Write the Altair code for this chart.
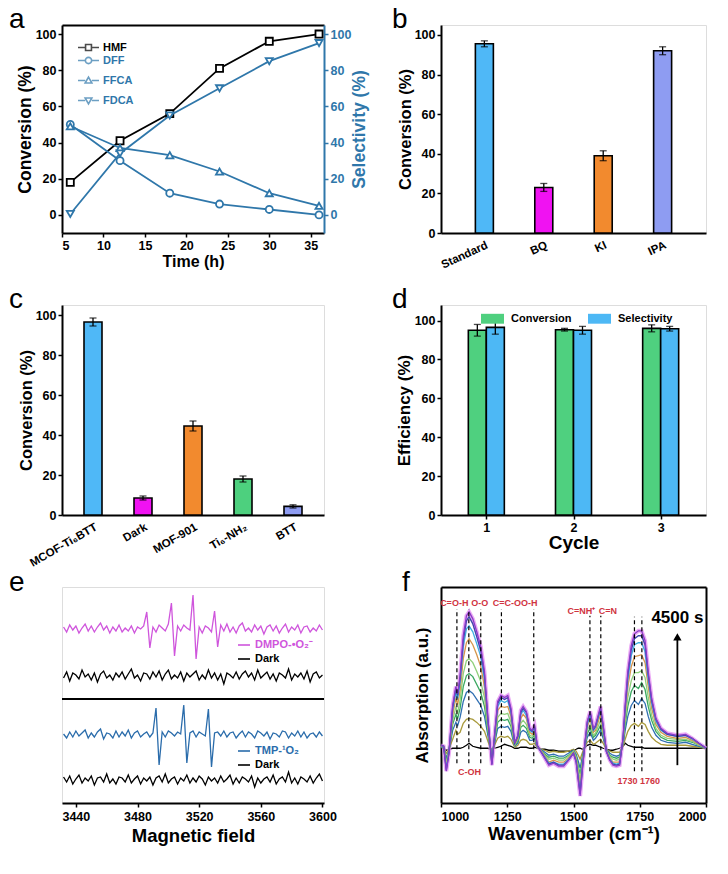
import altair as alt
import pandas as pd

FONT = "Liberation Sans"
BLUE_A = "#2f77aa"
RED = "#d0343f"
MAG = "#cf55dc"
TMPB = "#2a6cab"

# ---------------- panel a ----------------
time_h = [6, 12, 18, 24, 30, 36]
hmf = [18, 41, 56, 81, 96, 100]
dff = [50, 30, 12, 6, 3, 0]
ffca = [49, 37, 33, 24, 12, 5]
fdca = [0.5, 34, 55, 70, 85, 95]
a_x_range = [5, 36.6]
a_y_range = [-10, 105]

# ---------------- panel b ----------------
b_cats = ["Standard", "BQ", "KI", "IPA"]
b_vals = [95.5, 23, 39, 92]
b_errs = [1.5, 2, 2.5, 2]
b_colors = ["#4fb8f7", "#f012f2", "#f28a2e", "#8e9cf2"]

# ---------------- panel c ----------------
c_cats = ["MCOF-Ti₆BTT", "Dark", "MOF-901", "Ti₆-NH₂", "BTT"]
c_vals = [96.5, 8.5, 44.5, 18, 4.3]
c_errs = [2, 1, 2.5, 1.5, 0.8]
c_colors = ["#4fb8f7", "#f012f2", "#f28a2e", "#4dd07e", "#8e9cf2"]

# ---------------- panel d ----------------
cycles = ["1", "2", "3"]
d_conv = [95, 95.3, 96]
d_conv_err = [3, 0.7, 1.8]
d_sel = [96.5, 95, 95.8]
d_sel_err = [3.5, 2, 1.2]
d_metrics = ["Conversion", "Selectivity"]
d_colors = ["#4fd07f", "#4db8f5"]

# ---------------- panel e (EPR) ----------------
epr_field = list(range(3432, 3601, 2))
epr_dmpo = [2, -3, 4, -1, 3, -4, 1, 5, -2, 3,
            -3, 2, 6, -1, 3, -4, 2, -2, 4, -3,
            1, -2, 3, -4, 2, 0, 3,
            17, -19,
            2, -3, 4, 1, -2, 5,
            26, -27,
            3, -2, 4, 1, -1,
            34, -30,
            2, -4, 3, 1, -3,
            18, -18,
            4, -2, 5, -3, 2, -4, 3, 6, -2, 1,
            -3, 4, -1, 3, -5, 2, 4, -2, 3, -4,
            1, 5, -3, 2, -1, 4, -4, 2, 3, -3, 1, -2, 4, -1]
epr_dark1 = [-2, 4, -5, 3, 1, -3, 6, -1, 2, -4,
             3, -6, 2, 5, -2, 1, -4, 3, -1, 4,
             -3, 2, 7, -2, 1, -5, 3, 2, -3, 4,
             -1, 5, -4, 2, 6, -3, 1, -2, 4, -5,
             3, -1, 2, 5, -4, 1, -3, 6, -2, 3,
             -4, 2, -8, 3, 1, -2, 4, -3, 2, 5,
             -1, 3, -4, 6, -2, 1, 4, -3, 2, -5,
             3, 1, -2, 7, -4, 2, -1, 3, -3, 5,
             -6, 2, 4, -2, 1]
epr_tmp = [1, -3, 3, -2, 4, -1, 2, 5, -3, 2,
           -2, 3, 6, -4, 2, 1, -3, 4, -2, 3,
           -1, 5, -3, 2, 4, -2, 1, 3, -2, 2,
           27, -30,
           3, -2, 4, 2, -1, 3, 1,
           30, -28,
           2, 4, -2, 3, 1, -1,
           26, -32,
           2, 3, -1, 4, -2, 2, 3, -3, 1, 4,
           -2, 3, 1, -3, 4, 2, -1, 3, -4, 2,
           1, -2, 4, 3, -3, 2, -1, 4, -2, 3,
           -3, 1, 2, -2, 3, -1]
epr_dark2 = [3, -2, 4, -4, 1, 5, -3, 2, -1, 4,
             -5, 2, 3, -2, 6, -3, 1, -4, 3, 2,
             -2, 5, -3, 1, 4, -4, 2, -1, 3, -5,
             2, 4, -2, 6, -3, 1, 3, -4, 2, -1,
             5, -3, 2, -2, 4, 1, -5, 3, -1, 2,
             -3, 4, -2, 1, 5, -4, 2, -3, 3, 1,
             -2, 4, -7, 2, -3, 1, 3, -2, 5, -4,
             1, 3, -2, 8, -3, 2, -4, 3, 1, -2,
             4, -3, 2, 6, -1]
epr_divider = [81]

# ---------------- panel f (in-situ IR) ----------------
f_x_range = [1000, 2000]
f_y_range = [-55, 162]
ir_wn = [1000, 1010, 1020, 1030, 1044, 1056, 1063, 1072, 1084, 1096,
         1106, 1120, 1135, 1150, 1164, 1177, 1192, 1202, 1214, 1226,
         1240, 1252, 1264, 1278, 1290, 1301, 1310, 1322, 1335, 1344,
         1353, 1363, 1376, 1392, 1407, 1425, 1444, 1463, 1481, 1500,
         1510, 1518, 1525, 1534, 1544, 1552, 1563, 1575, 1583, 1602,
         1612, 1624, 1637, 1649, 1662, 1674, 1687, 1695, 1705, 1718,
         1730, 1745, 1757, 1770, 1782, 1795, 1811, 1830, 1854, 1892,
         1923, 1948, 1973, 2000]
ir_dark = [0, 0, -2, -1, 0, 0, 0, 0, 1, 3, 5, 2, 1, 0, 0, 0, -1, 0, 1, 2,
           4, 3, 2, 0, 0, 1, 1, 1, 0, 0, 1, 0, -1, -1, -2, -2, -3, -3, -3, -2,
           -1, 0, 0, -1, 1, 3, 4, 3, 3, 1, 0, -1, -2, -2, -1, 0, 2, 5, 3, 2,
           1, 1, 1, 0, 0, 0, 0, 0, 0, 0, 0, 0, 0, 0]
ir_t1 = [1, 0, -5, -1, 9, 18, 14, 16, 25, 29, 30, 29, 26, 22, 17, 7, -4, 3, 10, 12,
         11, 12, 9, 1, 3, 8, 9, 8, 4, 4, 5, 1, -1, -2, -4, -3, -4, -4, -3, -1,
         -3, -7, -11, -4, 2, 6, 8, 4, 5, 9, 5, -1, -3, -4, -4, -4, 2, 9, 17, 23,
         25, 22, 26, 24, 17, 11, 7, 4, 3, 3, 3, 2, 1, 0]
ir_t2 = [1, 1, -10, -2, 18, 26, 23, 31, 47, 56, 58, 55, 49, 43, 32, 13, -7, 5, 20, 22,
         21, 22, 17, 2, 5, 16, 18, 16, 8, 8, 10, 1, -1, -4, -7, -6, -8, -8, -5, -2,
         -6, -13, -20, -8, 3, 11, 16, 8, 10, 18, 10, -1, -5, -7, -8, -7, 4, 18, 32, 43,
         48, 44, 50, 45, 32, 21, 13, 8, 6, 5, 6, 4, 2, 0]
ir_t3 = [2, 1, -12, -3, 24, 34, 30, 40, 62, 73, 75, 72, 64, 56, 42, 17, -9, 7, 26, 29,
         28, 29, 22, 3, 7, 21, 23, 20, 11, 10, 13, 2, -2, -6, -9, -8, -10, -10, -7, -3,
         -8, -18, -26, -11, 4, 15, 20, 11, 13, 23, 13, -2, -7, -9, -10, -9, 6, 24, 42, 57,
         63, 60, 66, 59, 42, 28, 17, 11, 8, 7, 8, 6, 3, 0]
ir_t4 = [2, 1, -15, -3, 28, 41, 36, 48, 75, 88, 90, 86, 77, 67, 51, 20, -11, 9, 31, 35,
         34, 35, 26, 3, 9, 25, 28, 24, 13, 12, 15, 2, -2, -7, -11, -10, -12, -12, -8, -3,
         -9, -21, -32, -13, 5, 18, 24, 13, 15, 28, 15, -2, -8, -11, -12, -11, 7, 28, 51, 68,
         76, 76, 78, 71, 51, 33, 20, 13, 10, 9, 9, 7, 3, 0]
ir_t5 = [2, 2, -18, -4, 34, 50, 44, 58, 90, 106, 110, 104, 94, 82, 62, 24, -14, 10, 38, 42,
         41, 42, 32, 4, 10, 30, 34, 30, 16, 14, 18, 2, -2, -8, -14, -12, -14, -14, -10, -4,
         -11, -26, -38, -16, 6, 22, 30, 16, 18, 34, 18, -2, -10, -14, -14, -14, 8, 34, 62, 82,
         92, 93, 94, 86, 62, 40, 24, 16, 12, 10, 11, 8, 4, 0]
ir_t6 = [3, 2, -20, -4, 39, 56, 50, 66, 102, 120, 123, 117, 105, 92, 69, 27, -15, 12, 42, 48,
         46, 48, 36, 5, 12, 34, 38, 33, 18, 16, 21, 3, -3, -9, -15, -14, -16, -16, -11, -5,
         -13, -29, -43, -18, 6, 24, 33, 18, 21, 38, 21, -3, -11, -15, -16, -15, 9, 39, 69, 93,
         104, 106, 106, 97, 69, 45, 27, 18, 14, 12, 13, 9, 5, 0]
ir_t7 = [3, 2, -22, -5, 41, 60, 53, 70, 108, 128, 132, 125, 112, 98, 74, 29, -16, 12, 45, 51,
         49, 51, 38, 5, 12, 36, 40, 36, 19, 17, 22, 3, -3, -10, -16, -14, -17, -17, -12, -5,
         -13, -31, -46, -19, 7, 26, 36, 19, 22, 40, 22, -3, -12, -16, -17, -16, 10, 41, 74, 99,
         110, 113, 113, 104, 74, 48, 29, 19, 14, 12, 13, 10, 5, 0]
ir_t8 = [3, 2, -23, -5, 43, 62, 55, 73, 113, 133, 137, 130, 117, 102, 77, 30, -17, 13, 47, 53,
         51, 53, 40, 5, 13, 38, 42, 37, 20, 18, 23, 3, -3, -10, -17, -15, -18, -18, -12, -5,
         -14, -32, -48, -20, 7, 27, 37, 20, 23, 42, 23, -3, -12, -17, -18, -17, 10, 43, 77, 103,
         115, 118, 118, 108, 77, 50, 30, 20, 15, 13, 14, 10, 5, 0]
ir_curves = [ir_t1, ir_t2, ir_t3, ir_t4, ir_t5, ir_t6, ir_t7, ir_t8]
ir_colors = ["#a99a3c", "#2f6fb2", "#3aa860", "#8fd07a", "#d5964a", "#3fb0e0", "#3b47a8", "#8a3cc8"]

dash_wn = [1060, 1105, 1150, 1228, 1350, 1562, 1603, 1730, 1758]
dash_top = [140, 140, 140, 140, 140, 133, 133, 132, 132]
dash_bottom = [-15, -15, -15, -15, -15, -23, -23, -23, -23]

ann_labels = ["C=O-H", "O-O", "C=C-OO-H", "C-OH", "C=NH⁺", "C=N", "1730 1760"]
ann_wn = [1050, 1146, 1280, 1108, 1530, 1630, 1746]
ann_y = [146, 146, 146, -24, 138, 138, -33]

arrow_wn = [1892]
arrow_lo = [-17]
arrow_hi = [112]
time_label = ["4500 s"]
time_label_y = [131]

# panel sizes: equal widths within each grid column, equal heights within each row
COL_W = [262, 265]
ROW_H = [208, 210, 216]


# ---------------- helpers ----------------
def ax(**kw):
    base = dict(labelFont=FONT, labelFontWeight="bold", labelFontSize=12.5, labelColor="black",
                titleFont=FONT, titleFontWeight="bold", titleFontSize=17, titleColor="black",
                domainColor="black", domainWidth=2, tickColor="black", tickWidth=1.5, tickSize=4,
                grid=False, labelPadding=2, titlePadding=1, labelAngle=0)
    base.update(kw)
    return alt.Axis(**base)


def border_axis(orient):
    return alt.Axis(orient=orient, labels=False, ticks=False, title=None, grid=False,
                    domainColor="black", domainWidth=2)


def letter(t, dx, off=-31):
    return alt.TitleParams(text=t, anchor="start", frame="group", orient="top", offset=off,
                           dx=dx, baseline="alphabetic", fontSize=28, font=FONT,
                           fontWeight="normal", color="black")


# ================= panel a =================
df_a = pd.DataFrame({"time": time_h * 4, "value": hmf + dff + ffca + fdca,
                     "series": ["HMF"] * 6 + ["DFF"] * 6 + ["FFCA"] * 6 + ["FDCA"] * 6})
xsc_a = alt.Scale(domain=a_x_range, nice=False, zero=False)
xax_a = ax(values=[5, 10, 15, 20, 25, 30, 35], title="Time (h)", titleFontSize=16, titlePadding=2)
xa = alt.X("time:Q", scale=xsc_a, axis=xax_a)
xa_top = alt.X("time:Q", scale=xsc_a, axis=border_axis("top"))
ysc = alt.Scale(domain=a_y_range, nice=False, zero=False)
yvals = [0, 20, 40, 60, 80, 100]
yax_left = ax(values=yvals, title="Conversion (%)", titleFontSize=17.5)
ya_left = alt.Y("value:Q", scale=ysc, axis=yax_left)
ya_right = alt.Y("value:Q", scale=ysc,
                 axis=ax(orient="right", values=yvals, title="Selectivity (%)", titleAngle=270,
                         titleFontSize=17.5, titlePadding=18, domainColor=BLUE_A, tickColor=BLUE_A,
                         labelColor=BLUE_A, titleColor=BLUE_A))

P_SQ = "M-1,0H-0.28M0.28,0H1M-0.28,-0.28H0.28V0.28H-0.28Z"
P_CI = "M-1,0H-0.3M0.3,0H1M0.3,0A0.3,0.3 0 1,1 -0.3,0A0.3,0.3 0 1,1 0.3,0Z"
P_TU = "M-1,0H-0.32M0.32,0H1M-0.32,0.24L0,-0.32L0.32,0.24Z"
P_TD = "M-1,0H-0.32M0.32,0H1M-0.32,-0.24L0,0.32L0.32,-0.24Z"
LEG_A = dict(orient="none", title=None, labelFont=FONT, labelFontWeight="bold", labelFontSize=11,
             symbolSize=441, symbolStrokeWidth=1.6, labelOffset=3, padding=0, rowPadding=2)

base_a = alt.Chart(df_a)
hmf_src = base_a.transform_filter("datum.series == 'HMF'")
hmf_line = hmf_src.mark_line(color="black", strokeWidth=1.8).encode(x=xa, y=ya_left)
hmf_pts = hmf_src.mark_point(shape="square", filled=True, fill="white", stroke="black",
                             strokeWidth=1.8, size=50, opacity=1).encode(x=xa, y=ya_left)
hmf_leg = hmf_src.transform_filter("false").mark_point(filled=False, color="black").encode(
    x=xa, y=ya_left,
    shape=alt.Shape("series:N", scale=alt.Scale(domain=["HMF"], range=[P_SQ]),
                    legend=alt.Legend(legendX=15, legendY=11, labelColor="black",
                                      symbolStrokeColor="black", **LEG_A)))
left_a = alt.layer(hmf_line, hmf_pts, hmf_leg)

blue_src = base_a.transform_filter("datum.series != 'HMF'")
blue_lines = blue_src.mark_line(color=BLUE_A, strokeWidth=1.8).encode(x=xa_top, y=ya_right, detail="series:N")
blue_layers = [blue_lines]
for name, shp in [("DFF", "circle"), ("FFCA", "triangle-up"), ("FDCA", "triangle-down")]:
    blue_layers.append(
        base_a.transform_filter(f"datum.series == '{name}'")
        .mark_point(shape=shp, filled=True, fill="white", stroke=BLUE_A, strokeWidth=1.8,
                    size=50, opacity=1)
        .encode(x=xa_top, y=ya_right))
blue_leg = blue_src.transform_filter("false").mark_point(filled=False, color=BLUE_A).encode(
    x=xa_top, y=ya_right,
    shape=alt.Shape("series:N", scale=alt.Scale(domain=["DFF", "FFCA", "FDCA"], range=[P_CI, P_TU, P_TD]),
                    legend=alt.Legend(legendX=15, legendY=24, labelColor=BLUE_A,
                                      symbolStrokeColor=BLUE_A, **LEG_A)))
blue_layers.append(blue_leg)
right_a = alt.layer(*blue_layers)

panel_a = alt.layer(left_a, right_a).resolve_scale(
    x="independent", y="independent", shape="independent").properties(
    width=COL_W[0], height=ROW_H[0], title=letter("a", -53))


# ================= bar panel helper (b, c) =================
def bar_panel(cats, vals, errs, colors, angle, pad, width, height, ltr, dx):
    df = pd.DataFrame({"cat": cats, "val": vals, "err": errs})
    x = alt.X("cat:N", sort=cats, scale=alt.Scale(type="point", padding=pad),
              axis=ax(labelAngle=angle, title=None, ticks=False, labelPadding=6, labelFontSize=11.5))
    yax = ax(values=[0, 20, 40, 60, 80, 100], title="Conversion (%)", titleFontSize=16.5)
    ysc_b = alt.Scale(domain=[0, 105], nice=False, zero=False)
    bars = alt.Chart(df).mark_bar(size=18, stroke="black", strokeWidth=1.6).encode(
        x=x, y=alt.Y("val:Q", scale=ysc_b, axis=yax),
        color=alt.Color("cat:N", scale=alt.Scale(domain=cats, range=colors), legend=None))
    eb = alt.Chart(df).transform_calculate(lo="datum.val - datum.err", hi="datum.val + datum.err")
    rule = eb.mark_rule(color="black", strokeWidth=1.3).encode(
        x=x, y=alt.Y("lo:Q", scale=ysc_b, axis=yax), y2="hi:Q")
    t1 = eb.mark_tick(color="black", size=7, thickness=1.3).encode(x=x, y=alt.Y("lo:Q", scale=ysc_b, axis=yax))
    t2 = eb.mark_tick(color="black", size=7, thickness=1.3).encode(x=x, y=alt.Y("hi:Q", scale=ysc_b, axis=yax))
    return alt.layer(bars, rule, t1, t2).properties(width=width, height=height, title=letter(ltr, dx))


panel_b = bar_panel(b_cats, b_vals, b_errs, b_colors, -25, 0.73, COL_W[1], ROW_H[0], "b", -49)
panel_c = bar_panel(c_cats, c_vals, c_errs, c_colors, -30, 0.62, COL_W[0], ROW_H[1], "c", -53)

# ================= panel d =================
df_d = pd.DataFrame({"cycle": cycles * 2, "metric": ["Conversion"] * 3 + ["Selectivity"] * 3,
                     "val": d_conv + d_sel, "err": d_conv_err + d_sel_err})
xd = alt.X("cycle:O", scale=alt.Scale(type="point", padding=0.52),
           axis=ax(title="Cycle", titleFontSize=19, titlePadding=0, labelPadding=2))
ysc_d = alt.Scale(domain=[0, 108], nice=False, zero=False)
yax_d = ax(values=[0, 20, 40, 60, 80, 100], title="Efficiency (%)", titleFontSize=17)
col_d = alt.Color("metric:N", scale=alt.Scale(domain=d_metrics, range=d_colors),
                  legend=alt.Legend(orient="none", legendX=40, legendY=2, direction="horizontal",
                                    title=None, symbolType="M-1,-0.43H1V0.43H-1Z", symbolSize=529,
                                    symbolStrokeWidth=0, labelFont=FONT, labelFontWeight="bold",
                                    labelFontSize=11, labelOffset=7, columnPadding=16, padding=0))
d_layers = []
for metric, off in [("Conversion", -9), ("Selectivity", 9)]:
    src = alt.Chart(df_d).transform_filter(f"datum.metric == '{metric}'")
    d_layers.append(src.mark_bar(size=18, xOffset=off, stroke="black", strokeWidth=1.6).encode(
        x=xd, y=alt.Y("val:Q", scale=ysc_d, axis=yax_d), color=col_d))
    eb = src.transform_calculate(lo="datum.val - datum.err", hi="datum.val + datum.err")
    d_layers.append(eb.mark_rule(color="black", strokeWidth=1.3, xOffset=off).encode(
        x=xd, y=alt.Y("lo:Q", scale=ysc_d, axis=yax_d), y2="hi:Q"))
    d_layers.append(eb.mark_tick(color="black", size=7, thickness=1.3, xOffset=off).encode(
        x=xd, y=alt.Y("lo:Q", scale=ysc_d, axis=yax_d)))
    d_layers.append(eb.mark_tick(color="black", size=7, thickness=1.3, xOffset=off).encode(
        x=xd, y=alt.Y("hi:Q", scale=ysc_d, axis=yax_d)))
panel_d = alt.layer(*d_layers).properties(width=COL_W[1], height=ROW_H[1], title=letter("d", -49))

# ================= panel e =================
xe = alt.X("field:Q", scale=alt.Scale(domain=[3431, 3601], nice=False, zero=False),
           axis=ax(values=[3440, 3480, 3520, 3560, 3600], title="Magnetic field",
                   titleFontSize=18.5, labelPadding=3, titlePadding=4, format="d"))
ysc_e = alt.Scale(domain=[-23, 193], nice=False, zero=False)
LEG_E = dict(orient="none", title=None, symbolType="stroke", symbolSize=144, symbolStrokeWidth=1.6,
             labelFont=FONT, labelFontWeight="bold", labelFontSize=11, labelOffset=4, padding=0)

e_layers = []
for vals, name, col, shift, leg_y in [
        (epr_dmpo, "DMPO-•O₂⁻", MAG, -151, 51),
        (epr_dark1, "Dark", "black", -104, 65),
        (epr_tmp, "TMP-¹O₂", TMPB, -45, 157),
        (epr_dark2, "Dark ", "black", 0, 171)]:
    df_t = pd.DataFrame({"field": epr_field, "val": vals, "trace": name})
    e_layers.append(alt.Chart(df_t).mark_line(strokeWidth=1.3, yOffset=shift).encode(
        x=xe, y=alt.Y("val:Q", scale=ysc_e, axis=None),
        color=alt.Color("trace:N", scale=alt.Scale(domain=[name], range=[col]),
                        legend=alt.Legend(legendX=175, legendY=leg_y, labelColor=col, **LEG_E))))
df_div = pd.DataFrame({"val": epr_divider})
e_layers.append(alt.Chart(df_div).mark_rule(color="black", strokeWidth=2).encode(
    y=alt.Y("val:Q", scale=ysc_e, axis=None)))
panel_e = alt.layer(*e_layers).resolve_scale(color="independent").properties(
    width=COL_W[0], height=ROW_H[2], title=letter("e", -53, -32))

# ================= panel f =================
xsc_f = alt.Scale(domain=f_x_range, nice=False, zero=False)
ysc_f = alt.Scale(domain=f_y_range, nice=False, zero=False)
xax_f = ax(values=[1000, 1250, 1500, 1750, 2000], title="Wavenumber (cm⁻¹)",
           titleFontSize=18.5, labelPadding=3, titlePadding=2, format="d")
xf = alt.X("wn:Q", scale=xsc_f, axis=xax_f)
yax_f = ax(labels=False, ticks=False, title="Absorption (a.u.)", titleFontSize=17, titlePadding=10)
yf = alt.Y("val:Q", scale=ysc_f, axis=yax_f)

f_layers = [alt.Chart(pd.DataFrame({"wn": ir_wn, "val": ir_dark})).mark_line(
    color="black", strokeWidth=1.3).encode(x=xf, y=yf)]
f_layers.append(alt.Chart(pd.DataFrame({"wn": ir_wn, "val": ir_t8})).mark_line(
    color="#e48ef2", strokeWidth=4.0, opacity=0.75).encode(x=xf, y=yf))
for vals, col in zip(ir_curves, ir_colors):
    f_layers.append(alt.Chart(pd.DataFrame({"wn": ir_wn, "val": vals})).mark_line(
        color=col, strokeWidth=1.3).encode(x=xf, y=yf))

df_dash = pd.DataFrame({"wn": dash_wn, "lo": dash_bottom, "hi": dash_top})
f_layers.append(alt.Chart(df_dash).mark_rule(color="black", strokeWidth=1.2, strokeDash=[4, 3]).encode(
    x=xf, y=alt.Y("lo:Q", scale=ysc_f, axis=yax_f), y2="hi:Q"))

df_ann = pd.DataFrame({"label": ann_labels, "wn": ann_wn, "val": ann_y})
f_layers.append(alt.Chart(df_ann).mark_text(color=RED, font=FONT, fontWeight="bold", fontSize=9).encode(
    x=xf, y=yf, text="label:N"))

df_arrow = pd.DataFrame({"wn": arrow_wn, "lo": arrow_lo, "hi": arrow_hi})
f_layers.append(alt.Chart(df_arrow).mark_point(shape="triangle-up", filled=True, color="black",
                                               size=70, opacity=1).encode(
    x=xf, y=alt.Y("hi:Q", scale=ysc_f, axis=yax_f)))
df_tl = pd.DataFrame({"label": time_label, "wn": arrow_wn, "val": time_label_y})
f_layers.append(alt.Chart(df_tl).mark_text(color="black", font=FONT, fontWeight="bold", fontSize=17).encode(
    x=xf, y=yf, text="label:N"))
main_f = alt.layer(*f_layers)

border_f = alt.Chart(df_arrow).mark_rule(color="black", strokeWidth=1.8).encode(
    x=alt.X("wn:Q", scale=xsc_f, axis=border_axis("top")),
    y=alt.Y("lo:Q", scale=ysc_f, axis=border_axis("right")), y2="hi:Q")

panel_f = alt.layer(main_f, border_f).resolve_scale(x="independent", y="independent").properties(
    width=COL_W[1], height=ROW_H[2], title=letter("f", -39, -32))

# ================= layout =================
chart = alt.concat(panel_a, panel_b, panel_c, panel_d, panel_e, panel_f, columns=2,
                   spacing={"row": 72, "column": 117}, bounds="flush").resolve_scale(
    color="independent", shape="independent").properties(
    padding={"left": 0, "top": -3, "right": 0, "bottom": 0}, background="white"
).configure_view(stroke="black", strokeWidth=2).configure(font=FONT)

chart.save("out.html", embed_options={"renderer": "svg", "actions": False})
